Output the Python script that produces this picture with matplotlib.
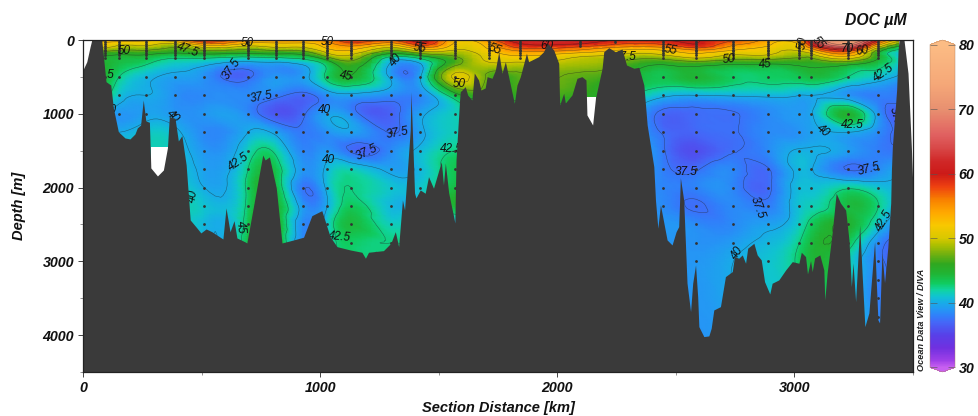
import numpy as np
import matplotlib
matplotlib.use("Agg")
import matplotlib.pyplot as plt
import matplotlib.tri as mtri
from matplotlib.colors import LinearSegmentedColormap, Normalize
from matplotlib.ticker import MultipleLocator

plt.rcParams['font.family'] = ['Liberation Sans', 'DejaVu Sans']

# ---------- data ----------
station_km = [0, 94, 152, 266, 388, 511, 696, 814, 928, 1030, 1131, 1300, 1422, 1570, 1710,
              1844, 2097, 2245, 2447, 2586, 2743, 2890, 3021, 3068, 3224, 3354, 3500]
depth_m = [0, 50, 100, 150, 200, 300, 500, 750, 1000, 1250, 1500, 1750, 2000, 2250, 2500, 2750, 3000, 3500, 4100]

doc_0 = [50, 53, 54, 53, 55, 60, 56, 56, 55, 56, 59, 58, 61, 53, 56, 62, 62, 60, 60, 60, 58, 54, 56, 62, 75, 60, 50]
doc_50 = [48, 52, 51, 51, 50, 55, 52, 52, 52, 54, 57, 54, 59, 52, 54, 60, 60, 58, 58, 60, 56, 53, 53, 60, 71, 55, 45]
doc_100 = [46, 50, 49, 49, 47.5, 50, 49, 50, 50, 53, 54, 50, 55, 51, 53, 58, 57, 55, 55, 58, 54, 52, 52, 56, 65, 50, 43]
doc_150 = [45, 47.5, 47, 47, 46, 47, 46.5, 47, 47.5, 51, 52, 47, 50, 49.5, 52, 55, 54, 52, 52, 54, 52, 51, 50, 52, 58, 46, 42]
doc_200 = [44.5, 45.5, 45, 45, 44, 44.5, 44, 44.5, 45, 49, 50, 44, 46, 48, 51, 53, 51, 50, 50, 52, 50, 50, 48.5, 49, 54, 45, 41]
doc_300 = [44, 44.5, 44, 43, 41.5, 41, 39.8, 40, 41, 44, 47, 39.9, 40.5, 46.5, 50, 50, 49, 48, 46, 47, 46, 46, 46, 46, 47, 44, 40]
doc_500 = [45, 44.5, 42.5, 40.5, 39.5, 38.8, 37.2, 39, 39.3, 43, 44.8, 39.5, 39.8, 50.5, 47, 47, 47, 46, 43.5, 44.5, 43, 43, 43.5, 44, 42.5, 41, 39]
doc_750 = [43, 43, 41, 40, 38.8, 38.5, 38.5, 38, 37, 38.8, 39.5, 38.5, 38.5, 44, 46, 46, 46, 44, 40.5, 40, 40.2, 40.4, 40, 40, 39, 38, 37]
doc_1000 = [40, 39.5, 39, 39.5, 39, 39, 38.5, 36.2, 37.2, 39.5, 38.5, 36.8, 39.5, 41.5, 43, 43, 43, 42, 37, 37.2, 37.4, 38.5, 39.2, 39.7, 44.8, 39, 37]
doc_1250 = [40, 40, 40, 41, 40.5, 38.5, 40, 39.5, 37.8, 38.8, 39.5, 37.4, 39.5, 41.5, 42, 42, 42, 41, 37.3, 37, 37.4, 38.5, 38.9, 39.4, 40, 38.5, 37]
doc_1500 = [40, 40, 41, 41.5, 41, 39, 41.5, 42, 38.3, 39, 37.3, 38.5, 40.5, 42.5, 42.5, 42.5, 42, 41, 37.7, 35.8, 37.4, 38.5, 40.2, 40.2, 39.3, 38, 38]
doc_1750 = [40, 40, 41, 41, 41, 39.5, 42.5, 43.5, 39, 40.5, 41.5, 39.5, 40.5, 43.5, 43.5, 43.5, 43, 41, 38, 37.3, 38.3, 37.4, 40.5, 40.2, 37.4, 38.5, 40]
doc_2000 = [40, 40, 40, 41, 41.5, 40, 43, 44, 37.7, 40.5, 42.5, 41, 41, 44, 44, 44, 43, 40, 38.3, 38.2, 38.3, 37.2, 40.7, 40.8, 42.2, 41, 40]
doc_2250 = [41, 41, 41, 41, 41.5, 41, 43, 44.8, 39, 40, 43.2, 40.5, 41, 44.5, 44, 44, 43, 40, 38.5, 37.3, 38.5, 38, 41, 41.5, 44, 42.5, 38]
doc_2500 = [41, 41, 41, 41, 41.5, 40.5, 43.5, 45.3, 38.5, 41, 44.2, 41.5, 42, 40, 40, 40, 40, 39, 39, 38.5, 38.5, 39.5, 41.5, 43, 44.8, 41, 37]
doc_2750 = [41, 41, 41, 41, 41.5, 40.5, 44, 45.5, 38.5, 41, 43, 42.5, 42, 40, 40, 40, 40, 39, 39, 38.8, 39.3, 40.5, 42.5, 44, 43.5, 38.5, 36]
doc_3000 = [41, 41, 41, 41, 41.5, 40.5, 44, 45.5, 38.5, 41, 43, 42.5, 42, 40, 40, 40, 40, 39, 39, 39, 40, 41, 43, 44.2, 42, 38, 36]
doc_3500 = [41, 41, 41, 41, 41.5, 40.5, 44, 45.5, 38.5, 41, 43, 42.5, 42, 40, 40, 40, 40, 39, 39, 39, 40, 41, 42, 43, 41.5, 38, 37]
doc_4100 = [41, 41, 41, 41, 41.5, 40.5, 44, 45.5, 38.5, 41, 43, 42.5, 42, 40, 40, 40, 40, 39, 39, 38.8, 40, 41, 42, 43, 41.5, 38, 37]
doc_rows = [doc_0, doc_50, doc_100, doc_150, doc_200, doc_300, doc_500, doc_750, doc_1000, doc_1250,
            doc_1500, doc_1750, doc_2000, doc_2250, doc_2500, doc_2750, doc_3000, doc_3500, doc_4100]

bottom_km = [1, 16, 30, 37, 79, 97, 117, 128, 149, 177, 198, 219, 229, 243, 254, 265, 280, 286, 314, 339, 356, 364, 388,
             402, 417, 435, 452, 480, 497, 519, 543, 590, 603, 620, 637, 649, 684, 691, 758, 768, 786, 815, 839, 888,
             930, 965, 1007, 1042, 1071, 1127, 1176, 1191, 1204, 1267, 1298, 1317, 1331, 1347, 1356, 1380, 1383, 1398,
             1404, 1422, 1443, 1457, 1478, 1511, 1520, 1528, 1542, 1563, 1568, 1573, 1588, 1591, 1612, 1622, 1640, 1650,
             1668, 1678, 1696, 1704, 1725, 1739, 1753, 1767, 1781, 1819, 1830, 1844, 1870, 1879, 1921, 1942, 1959, 1985,
             2006, 2010, 2027, 2034, 2062, 2083, 2104, 2121, 2125, 2149, 2161, 2189, 2196, 2217, 2245, 2273, 2292, 2323,
             2344, 2365, 2379, 2407, 2414, 2424, 2435, 2463, 2484, 2501, 2512, 2516, 2519, 2533, 2547, 2562, 2571, 2583,
             2592, 2597, 2618, 2639, 2649, 2660, 2688, 2709, 2738, 2747, 2765, 2780, 2794, 2803, 2829, 2843, 2860, 2874,
             2896, 2906, 2934, 2963, 2991, 3019, 3029, 3047, 3055, 3068, 3075, 3085, 3107, 3124, 3128, 3138, 3159, 3176,
             3194, 3216, 3230, 3240, 3247, 3258, 3275, 3286, 3297, 3314, 3338, 3352, 3359, 3369, 3380, 3394, 3406, 3409,
             3413, 3431, 3437, 3441, 3462, 3479, 3493, 3500]
bottom_m = [397, 294, 91, 0, 0, 565, 610, 921, 1243, 1328, 1341, 1274, 1192, 1152, 813, 1098, 1115, 1734, 1843, 1762, 1463,
            1039, 1061, 1369, 1297, 1694, 2439, 2547, 2615, 2561, 2598, 2697, 2276, 2598, 2449, 2683, 2737, 2751, 1558,
            1626, 1585, 2005, 2751, 2710, 2673, 2381, 2313, 2665, 2801, 2846, 2877, 2958, 2877, 2855, 2755, 2598, 2801,
            2168, 2304, 1220, 701, 2073, 2141, 2033, 2077, 1852, 2009, 1649, 1965, 1667, 2073, 2394, 2480, 1626, 813, 701,
            633, 745, 813, 447, 542, 678, 650, 497, 519, 407, 159, 451, 294, 858, 610, 497, 180, 294, 226, 159, 45, 136,
            316, 881, 722, 854, 745, 519, 497, 542, 1016, 1152, 790, 383, 159, 104, 159, 122, 339, 383, 370, 610, 1152,
            1717, 2168, 2551, 2236, 2710, 2778, 2598, 2530, 2168, 1866, 2168, 3293, 3682, 3297, 3049, 3478, 3885, 4020,
            4011, 3907, 3659, 3614, 3207, 3139, 2936, 2958, 2913, 3026, 2822, 2755, 2913, 2981, 3275, 3442, 3297, 3252,
            3117, 3004, 3026, 2877, 2936, 3171, 2990, 3139, 2954, 2913, 3117, 3523, 3157, 2619, 2077, 2209, 2304, 2710,
            3343, 3022, 3546, 2507, 3207, 3885, 3699, 2733, 3794, 3835, 2886, 3293, 2801, 2209, 1762, 1446, 678, 136, 0,
            0, 451, 1446, 2033]

gap_start_km = [0, 285, 2123, 3441]
gap_end_km = [40, 360, 2163, 3500]
gap_top_m = [0, 1450, 772, 0]

cast_km = [94, 152, 266, 388, 511, 696, 814, 928, 1030, 1131, 1300, 1422, 1570, 1710, 1844, 2097, 2245, 2447, 2586,
           2743, 2890, 3021, 3068, 3224, 3354]
cast_bottom_m = [500, 1000, 1000, 1000, 2500, 2500, 1250, 2500, 2500, 2750, 2750, 2250, 2000, 250, 300, 100, 50, 2250,
                 3000, 2750, 3000, 2750, 2750, 2750, 3750]
sample_depths = [5, 30, 55, 80, 105, 130, 155, 180, 205, 250, 500, 750, 1000, 1250, 1500, 1750, 2000, 2250, 2500, 2750,
                 3000, 3250, 3500, 3750]

contour_levels = [37.5, 40, 42.5, 45, 47.5, 50, 52.5, 55, 57.5, 60, 62.5, 65, 67.5, 70]

label_text = ['50', '47.5', '47.5', '40', '40', '37.5', '50', '37.5', '40', '50', '45', '40', '55', '37.5', '37.5', '40',
              '42.5', '40', '45', '42.5', '42.5', '50', '55', '60', '47.5', '55', '50', '45', '40', '42.5', '42.5', '37.5',
              '37.5', '37.5', '40', '42.5', '70', '60', '55', '50', '37.5']
label_km = [173, 443, 85, 115, 380, 629, 692, 751, 1017, 1030, 1110, 1321, 1418, 1325, 1198, 1034, 654, 464, 662, 1080,
            1553, 1587, 1735, 1958, 2288, 2477, 2722, 2878, 3119, 3245, 3376, 3313, 2544, 2844, 2760, 3376, 3224, 3287,
            3102, 3034, 3425]
label_m = [149, 135, 475, 948, 1043, 393, 40, 772, 948, 30, 488, 271, 108, 1260, 1518, 1626, 1653, 2114, 2534, 2669, 1477,
           596, 122, 81, 230, 136, 257, 325, 1233, 1152, 447, 1748, 1789, 2276, 2886, 2453, 122, 149, 40, 40, 1057]
label_rot = [0, -20, 0, 0, -45, 55, 0, 10, 0, 0, -10, 50, -10, 10, 25, 0, 35, 80, -85, -5, 0, 0, -20, 0, 0, -10, 5, 5, -40,
             0, 35, 15, 0, -70, 55, 60, 0, 10, -50, 80, -75]

cmap_vals = [30, 31, 33, 35, 37, 38, 39, 40, 41, 42, 43, 44.5, 46, 47.5, 49, 50, 52, 54, 56, 58, 60, 62, 64, 66, 68, 70, 74, 80]
cmap_cols = ['#C860F0', '#A040E8', '#7030E0', '#5840E8', '#4468F8', '#3080FA', '#2498F4', '#18ACE8', '#10C4D0', '#10D4A0', '#10CC60',
             '#20B434', '#30A820', '#70B010', '#B0C000', '#D8C800', '#F8C800', '#FFA800', '#F88000', '#EE4010', '#CC1A18',
             '#D02828', '#D84848', '#E06060', '#E57868', '#E89070', '#F5A878', '#FCBC84']

# ---------- field ----------
fig = plt.figure(figsize=(9.79, 4.16), dpi=100)
ax = fig.add_axes([83 / 979, (416 - 372) / 416, 830 / 979, 332 / 416])

cmap = LinearSegmentedColormap.from_list('doc', [((v - 30) / 50, c) for v, c in zip(cmap_vals, cmap_cols)], N=512)
norm = Normalize(30, 80)

X, Y = np.meshgrid(station_km, depth_m)
Z = np.array(doc_rows, dtype=float)
ny, nx = Z.shape
idx = np.arange(nx * ny).reshape(ny, nx)
tris = np.vstack([np.c_[idx[:-1, :-1].ravel(), idx[:-1, 1:].ravel(), idx[1:, 1:].ravel()],
                  np.c_[idx[:-1, :-1].ravel(), idx[1:, 1:].ravel(), idx[1:, :-1].ravel()]])
tri = mtri.Triangulation(X.ravel().astype(float), Y.ravel().astype(float), tris)
refiner = mtri.UniformTriRefiner(tri)
fine_tri, fine_z = refiner.refine_field(Z.ravel(), subdiv=3)
mesh = ax.tripcolor(fine_tri, fine_z, shading='gouraud', cmap=cmap, norm=norm, zorder=1, rasterized=True)
ax.tricontour(fine_tri, fine_z, levels=contour_levels, colors='#222222', linewidths=0.35, alpha=0.6, zorder=2)

# stations
for km, bottom in zip(cast_km, cast_bottom_m):
    zs = [d for d in sample_depths if d <= bottom]
    ax.plot([km] * len(zs), zs, ls='none', marker='o', ms=2.0, mfc='#333333', mec='none', zorder=3)

# contour labels
for t, km, m, r in zip(label_text, label_km, label_m, label_rot):
    ax.text(km, m, t, rotation=r, ha='center', va='center', fontsize=8.5, style='italic', color='#111111', zorder=4,
            rotation_mode='anchor')

# no-data gaps and bottom
grid_km = np.linspace(0, 3500, 7001)
for a, b, top in zip(gap_start_km, gap_end_km, gap_top_m):
    mask = (grid_km >= a) & (grid_km <= b)
    ax.fill_between(grid_km[mask], top, 4500, color='white', lw=0, zorder=5)
ax.fill_between(bottom_km, bottom_m, 4500, color='#3a3a3a', lw=0, zorder=6)

ax.set_xlim(0, 3500)
ax.set_ylim(4500, 0)
ax.xaxis.set_major_locator(MultipleLocator(1000))
ax.xaxis.set_minor_locator(MultipleLocator(500))
ax.yaxis.set_major_locator(MultipleLocator(1000))
ax.yaxis.set_minor_locator(MultipleLocator(500))
ax.tick_params(which='major', length=3.5, width=0.7, color='#444444', pad=3)
ax.tick_params(which='minor', length=2.5, width=0.5, color='#666666')
for lab in ax.get_xticklabels() + ax.get_yticklabels():
    lab.set_fontsize(10.3)
    lab.set_fontweight('bold')
    lab.set_fontstyle('italic')
    lab.set_color('#111111')
for s in ax.spines.values():
    s.set_linewidth(0.9)
    s.set_color('#222222')
    s.set_zorder(8)

fig.text(498 / 979, 1 - 408 / 416, 'Section Distance [km]', ha='center', va='center', fontsize=10.5,
         fontweight='bold', style='italic', color='#111111')
fig.text(19 / 979, 1 - 206 / 416, 'Depth [m]', rotation=90, ha='center', va='center', fontsize=10.5,
         fontweight='bold', style='italic', color='#111111')
fig.text(876 / 979, 1 - 20 / 416, 'DOC µM', ha='center', va='center', fontsize=11.3,
         fontweight='bold', style='italic', color='#111111')
fig.text(922 / 979, 1 - 320 / 416, 'Ocean Data View / DIVA', rotation=90, ha='center', va='center', fontsize=6.6,
         fontweight='bold', style='italic', color='#222222')

# colour bar
cax = fig.add_axes([930 / 979, (416 - 372) / 416, 25 / 979, 332 / 416])
cb = fig.colorbar(mesh, cax=cax, extend='both', extendfrac=0.014, ticks=[30, 40, 50, 60, 70, 80], drawedges=False)
cb.outline.set_linewidth(0.3)
cb.outline.set_edgecolor('#b08060')
cb.ax.tick_params(axis='y', which='major', left=True, right=True, direction='in', length=5, width=0.7,
                  color='#55555599', pad=2.5)
cb.ax.minorticks_off()
for lab in cb.ax.get_yticklabels():
    lab.set_fontsize(10.3)
    lab.set_fontweight('bold')
    lab.set_fontstyle('italic')
    lab.set_color('#111111')

fig.savefig('out.png', dpi=100)
